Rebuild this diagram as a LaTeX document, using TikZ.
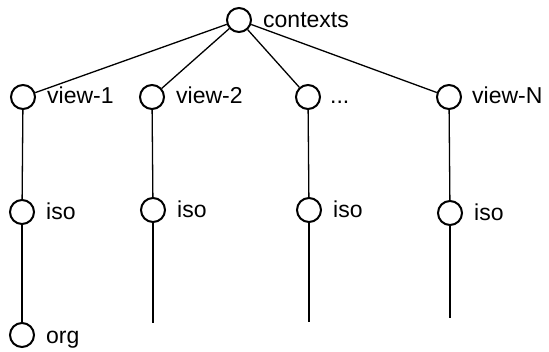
\documentclass[tikz,border=0pt]{standalone}
\usepackage{fontspec}
\setmainfont{Liberation Sans}
\begin{document}
\begin{tikzpicture}[x=1pt,y=-1pt,
  vertex/.style={circle,draw,line width=2pt,minimum size=24pt,inner sep=0pt},
  lbl/.style={inner sep=0pt,anchor=base west,font=\fontsize{23}{27}\selectfont},
  edge/.style={line width=1.3pt}]
\useasboundingbox (0,0) rectangle (549,352);

% tree vertices
\node[vertex] (root) at (239,20) {};
\node[vertex] (v1) at (23,97) {};
\node[vertex] (v2) at (152,97) {};
\node[vertex] (v3) at (308,97) {};
\node[vertex] (vN) at (449,97) {};
\node[vertex] (i1) at (22,212) {};
\node[vertex] (i2) at (153,210) {};
\node[vertex] (i3) at (309,210) {};
\node[vertex] (iN) at (450,213) {};
\node[vertex] (org) at (22,335) {};

% open ends of the lower branches
\coordinate (e2) at (153,323);
\coordinate (e3) at (309,322);
\coordinate (eN) at (450,318);

% labels
\node[lbl] (troot) at ([xshift=24pt,yshift=-8pt]root.center) {contexts};
\node[lbl] (tv1) at ([xshift=24pt,yshift=-7pt]v1.center) {view-1};
\node[lbl] (tv2) at ([xshift=24pt,yshift=-7pt]v2.center) {view-2};
\node[lbl] (tv3) at ([xshift=22pt,yshift=-7pt]v3.center) {...};
\node[lbl] (tvN) at ([xshift=23pt,yshift=-7pt]vN.center) {view-N};
\node[lbl] (ti1) at ([xshift=24pt,yshift=-8pt]i1.center) {iso};
\node[lbl] (ti2) at ([xshift=24pt,yshift=-8pt]i2.center) {iso};
\node[lbl] (ti3) at ([xshift=24pt,yshift=-8pt]i3.center) {iso};
\node[lbl] (tiN) at ([xshift=24pt,yshift=-8pt]iN.center) {iso};
\node[lbl] (torg) at ([xshift=24pt,yshift=-9pt]org.center) {org};

% connectors
\draw[edge] (root) -- (v1);
\draw[edge] (root) -- (v2);
\draw[edge] (root) -- (v3);
\draw[edge] (root) -- (vN);
\draw[edge] (v1) -- (i1);
\draw[edge] (v2) -- (i2);
\draw[edge] (v3) -- (i3);
\draw[edge] (vN) -- (iN);
\draw[edge] (i1) -- (org);
\draw[edge] (i2) -- (e2);
\draw[edge] (i3) -- (e3);
\draw[edge] (iN) -- (eN);
\end{tikzpicture}
\end{document}
